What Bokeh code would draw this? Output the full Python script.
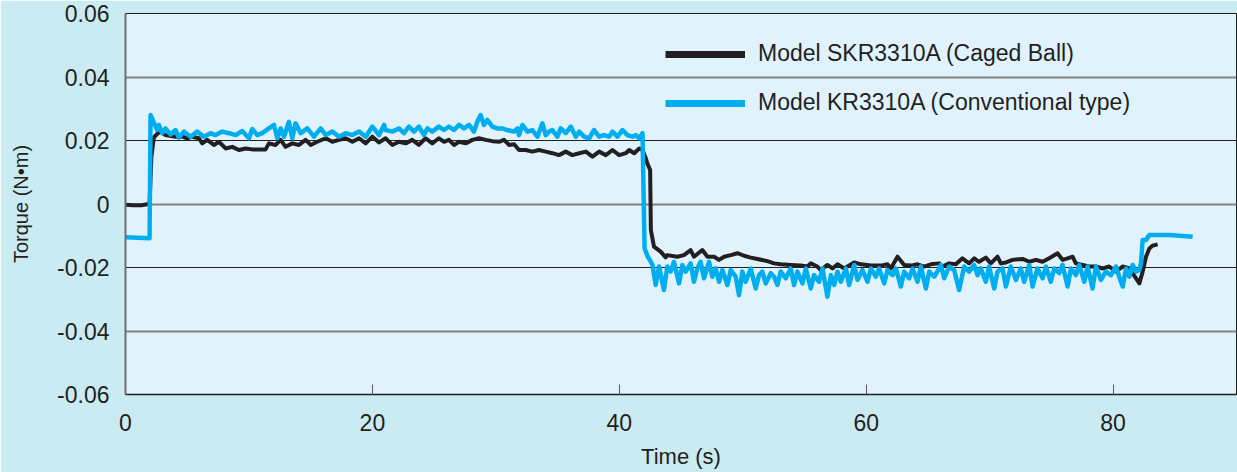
from bokeh.plotting import figure
from bokeh.models import (ColumnDataSource, Legend, LegendItem, FixedTicker, Grid,
                          CustomJSTickFormatter, Range1d)
from bokeh.embed import file_html
from bokeh.resources import INLINE

# ---------------- data ----------------
X_TICKS = [0, 20, 40, 60, 80]
Y_TICKS = [-0.06, -0.04, -0.02, 0, 0.02, 0.04, 0.06]
X_LABEL = "Time (s)"
Y_LABEL = "Torque (N\u2022m)"
SERIES_NAMES = ["Model SKR3310A (Caged Ball)", "Model KR3310A (Conventional type)"]

# Model SKR3310A (Caged Ball) -- time (s)
SKR_TIME = [
    0, 0.6, 1.3, 1.76, 1.95, 2.1, 2.3, 2.6, 2.85, 3.24,
    4.05, 4.59, 5.0, 5.41, 5.95, 6.22, 6.62, 7.16, 7.57, 8.11,
    8.65, 9.19, 9.73, 10.27, 11.35, 11.62, 12.16, 12.57, 12.97, 13.51,
    14.05, 14.59, 15.0, 15.54, 16.22, 16.76, 17.30, 17.84, 18.38, 18.92,
    19.46, 20.0, 20.54, 21.08,
    21.61, 22.15, 22.69, 23.23, 23.77, 24.31, 24.85, 25.39, 25.80, 26.20,
    26.61, 27.02, 27.56, 28.10, 28.64, 29.18, 29.72, 30.26, 30.66, 31.07,
    31.48, 31.88, 32.42, 32.96, 33.50, 34.04, 34.58, 35.12, 35.66, 36.20,
    36.75, 37.29, 37.83, 38.37, 38.91, 39.45, 39.99, 40.53, 40.80, 41.21,
    41.61, 41.88, 42.15, 42.27, 42.50, 42.56, 42.81, 43.35, 43.76,
    43.89, 44.70, 45.24, 45.78, 46.05, 46.73, 47.14, 47.68, 48.08, 48.49,
    49.03, 49.57, 50.11, 50.65, 51.19, 52.00, 52.54, 53.08, 53.89, 54.70,
    55.24, 55.51, 56.05, 56.32, 56.86, 57.27, 57.68, 58.22, 59.03, 59.57,
    60.38, 61.19, 61.73, 62.00, 62.54, 63.08, 63.62, 64.16, 64.70, 65.24,
    65.92,
    66.18, 66.72, 67.26, 67.80, 68.34, 68.75, 69.15, 69.69, 70.10, 70.64,
    70.91, 71.32, 71.86, 72.67, 73.21, 73.75, 74.29, 74.83, 75.50, 75.91,
    76.32, 76.72, 76.99, 77.53, 78.07, 78.61, 79.15, 79.69, 80.23, 80.78,
    81.32, 81.86, 82.13, 82.40, 82.67, 82.94, 83.21, 83.61,
]
# Model SKR3310A (Caged Ball) -- torque (N*m)
SKR_TORQUE = [
    -0.0002, -0.0004, -0.0004, -0.0001, 0.0000, 0.0150, 0.0210, 0.0222, 0.0228, 0.0217,
    0.0212, 0.0212, 0.0207, 0.0212, 0.0207, 0.0191, 0.0202, 0.0186, 0.0196, 0.0175,
    0.0180, 0.0170, 0.0175, 0.0172, 0.0172, 0.0191, 0.0186, 0.0202, 0.0180, 0.0191,
    0.0186, 0.0202, 0.0186, 0.0196, 0.0207, 0.0196, 0.0202, 0.0207, 0.0196, 0.0207,
    0.0191, 0.0212, 0.0194, 0.0207,
    0.0186, 0.0196, 0.0191, 0.0202, 0.0186, 0.0207, 0.0191, 0.0207, 0.0196, 0.0202,
    0.0186, 0.0196, 0.0191, 0.0202, 0.0207, 0.0202, 0.0198, 0.0196, 0.0202, 0.0186,
    0.0188, 0.0170, 0.0170, 0.0165, 0.0170, 0.0165, 0.0160, 0.0154, 0.0165, 0.0154,
    0.0160, 0.0165, 0.0149, 0.0165, 0.0154, 0.0170, 0.0154, 0.0160, 0.0170, 0.0160,
    0.0175, 0.0170, 0.0144, 0.0128, 0.0107, -0.0082, -0.0134, -0.0150, -0.0168,
    -0.0161, -0.0166, -0.0161, -0.0145, -0.0166, -0.0145, -0.0166, -0.0166, -0.0176, -0.0166,
    -0.0161, -0.0155, -0.0163, -0.0169, -0.0173, -0.0180, -0.0187, -0.0190, -0.0192, -0.0194,
    -0.0197, -0.0187, -0.0197, -0.0208, -0.0192, -0.0203, -0.0190, -0.0203, -0.0184, -0.0190,
    -0.0194, -0.0194, -0.0190, -0.0203, -0.0166, -0.0192, -0.0194, -0.0190, -0.0197, -0.0190,
    -0.0187,
    -0.0197, -0.0187, -0.0190, -0.0171, -0.0187, -0.0171, -0.0182, -0.0169, -0.0187, -0.0166,
    -0.0187, -0.0184, -0.0176, -0.0173, -0.0182, -0.0176, -0.0182, -0.0171, -0.0155, -0.0176,
    -0.0171, -0.0166, -0.0187, -0.0192, -0.0197, -0.0197, -0.0203, -0.0197, -0.0213, -0.0197,
    -0.0203, -0.0234, -0.0250, -0.0213, -0.0166, -0.0140, -0.0131, -0.0127,
]

# Model KR3310A (Conventional type) -- time (s)
KR_TIME = [
    0, 1.0, 1.95, 2.03, 2.57, 2.70, 2.97, 3.24, 3.65, 4.05,
    4.32, 4.73, 5.27, 5.81, 6.35, 6.89, 7.30, 7.84, 8.38, 8.92,
    9.46, 10.0, 10.27, 10.68, 11.08, 11.62, 12.03, 12.30, 12.57, 12.84,
    13.24, 13.51, 13.78, 14.19, 14.73, 15.27, 15.81, 16.22, 16.76, 17.30,
    17.84, 18.38, 18.92, 19.46, 20.0, 20.54, 20.95,
    21.07, 21.61, 22.15, 22.56, 22.96, 23.37, 23.77, 24.18, 24.45, 24.85,
    25.39, 25.80, 26.20, 26.61, 27.02, 27.42, 27.83, 28.23, 28.50, 28.77,
    29.04, 29.31, 29.72, 30.12, 30.53, 30.93, 31.48, 31.75, 31.88, 32.15,
    32.56, 32.96, 33.37, 33.77, 34.04, 34.31, 34.58, 34.99, 35.26, 35.66,
    36.07, 36.48, 36.75, 37.15, 37.56, 37.96, 38.37, 38.77, 39.18, 39.45,
    39.85, 40.26, 40.66, 41.07, 41.34, 41.61, 41.88, 42.05, 42.30, 42.68,
    42.95, 43.22, 43.62, 43.89, 44.16, 44.43, 44.84, 45.11, 45.38, 45.78,
    46.05, 46.32, 46.59, 46.86, 47.27, 47.54, 47.81, 48.08, 48.35, 48.76,
    49.03, 49.43, 49.70, 49.97, 50.24, 50.65, 51.05, 51.32, 51.59, 51.86,
    52.27, 52.54, 52.81, 53.08, 53.49, 53.89, 54.16, 54.43, 54.84, 55.11,
    55.51, 55.78, 56.19, 56.46, 56.86, 57.14, 57.41, 57.68, 57.95, 58.35,
    58.62, 59.03, 59.30, 59.70, 60.11, 60.38, 60.78, 61.05, 61.46, 61.73,
    62.14, 62.41, 62.81, 63.08, 63.49, 63.76, 64.16, 64.43, 64.84, 65.11,
    65.51, 65.92,
    66.05, 66.32, 66.72, 67.13, 67.53, 67.94, 68.34, 68.75, 69.02, 69.29,
    69.69, 69.96, 70.37, 70.64, 71.05, 71.32, 71.72, 72.13, 72.53, 72.80,
    73.21, 73.48, 73.88, 74.29, 74.56, 74.96, 75.23, 75.64, 75.91, 76.32,
    76.59, 76.99, 77.26, 77.67, 77.94, 78.34, 78.61, 79.02, 79.42, 79.83,
    80.23, 80.50, 80.78, 81.05, 81.32, 81.59, 81.86, 82.13, 82.26, 82.40,
    82.67, 82.94, 84.56, 86.45,
]
# Model KR3310A (Conventional type) -- torque (N*m)
KR_TORQUE = [
    -0.0105, -0.0106, -0.0108, 0.0280, 0.0233, 0.0249, 0.0223, 0.0238, 0.0219, 0.0233,
    0.0209, 0.0228, 0.0212, 0.0228, 0.0212, 0.0223, 0.0217, 0.0228, 0.0223, 0.0217,
    0.0230, 0.0207, 0.0236, 0.0217, 0.0223, 0.0238, 0.0249, 0.0207, 0.0238, 0.0212,
    0.0259, 0.0207, 0.0254, 0.0223, 0.0238, 0.0212, 0.0238, 0.0217, 0.0228, 0.0212,
    0.0223, 0.0217, 0.0228, 0.0212, 0.0244, 0.0217, 0.0249,
    0.0233, 0.0228, 0.0238, 0.0223, 0.0244, 0.0228, 0.0244, 0.0217, 0.0238, 0.0228,
    0.0244, 0.0233, 0.0244, 0.0233, 0.0249, 0.0238, 0.0249, 0.0228, 0.0259, 0.0280,
    0.0249, 0.0265, 0.0244, 0.0238, 0.0238, 0.0233, 0.0228, 0.0238, 0.0217, 0.0249,
    0.0228, 0.0233, 0.0212, 0.0254, 0.0217, 0.0228, 0.0233, 0.0212, 0.0238, 0.0223,
    0.0244, 0.0212, 0.0228, 0.0212, 0.0207, 0.0233, 0.0212, 0.0217, 0.0212, 0.0228,
    0.0212, 0.0233, 0.0217, 0.0212, 0.0217, 0.0207, 0.0223, -0.0140, -0.0165, -0.0190,
    -0.0255, -0.0197, -0.0271, -0.0197, -0.0213, -0.0182, -0.0250, -0.0192, -0.0213, -0.0187,
    -0.0245, -0.0203, -0.0182, -0.0234, -0.0182, -0.0229, -0.0203, -0.0245, -0.0208, -0.0255,
    -0.0208, -0.0229, -0.0287, -0.0213, -0.0245, -0.0203, -0.0266, -0.0224, -0.0213, -0.0250,
    -0.0218, -0.0229, -0.0255, -0.0213, -0.0234, -0.0203, -0.0255, -0.0213, -0.0250, -0.0203,
    -0.0266, -0.0224, -0.0245, -0.0203, -0.0292, -0.0224, -0.0255, -0.0213, -0.0245, -0.0203,
    -0.0255, -0.0192, -0.0239, -0.0208, -0.0245, -0.0203, -0.0229, -0.0203, -0.0250, -0.0208,
    -0.0224, -0.0203, -0.0260, -0.0213, -0.0234, -0.0203, -0.0245, -0.0197, -0.0266, -0.0213,
    -0.0229, -0.0203,
    -0.0192, -0.0234, -0.0197, -0.0208, -0.0271, -0.0197, -0.0213, -0.0192, -0.0224, -0.0203,
    -0.0245, -0.0197, -0.0266, -0.0213, -0.0203, -0.0260, -0.0197, -0.0239, -0.0203, -0.0245,
    -0.0192, -0.0260, -0.0203, -0.0234, -0.0197, -0.0245, -0.0203, -0.0218, -0.0192, -0.0260,
    -0.0203, -0.0224, -0.0192, -0.0245, -0.0197, -0.0266, -0.0197, -0.0239, -0.0213, -0.0224,
    -0.0197, -0.0229, -0.0260, -0.0203, -0.0229, -0.0192, -0.0213, -0.0208, -0.0187, -0.0113,
    -0.0113, -0.0098, -0.0098, -0.0103,
]

if len(SKR_TIME) != len(SKR_TORQUE) or len(KR_TIME) != len(KR_TORQUE):
    raise SystemExit("length mismatch %d/%d %d/%d" % (len(SKR_TIME), len(SKR_TORQUE),
                                                     len(KR_TIME), len(KR_TORQUE)))

# ---------------- style ----------------
FONT = "Liberation Sans"
TEXT_COLOR = "#231F20"
BLACK = "#231F20"
BLUE = "#00AEEF"
PLOT_BG = "#E0F2FC"
PAGE_BG = "#CBEBF3"

p = figure(width=1237, height=472, output_backend="svg", toolbar_location=None,
           x_range=Range1d(0, 90), y_range=Range1d(-0.06, 0.06),
           min_border_left=125, min_border_right=1, min_border_top=13, min_border_bottom=78,
           background_fill_color=PLOT_BG, border_fill_color=PAGE_BG,
           outline_line_color=BLACK, outline_line_width=1)

p.xgrid.visible = False
p.ygrid.visible = False

# horizontal grid lines (dark at +-0.02, grey at 0 and +-0.04)
g1 = Grid(dimension=1, ticker=FixedTicker(ticks=[-0.02, 0.02]),
          grid_line_color=BLACK, grid_line_width=1)
g2 = Grid(dimension=1, ticker=FixedTicker(ticks=[-0.04, 0, 0.04]),
          grid_line_color="#808285", grid_line_width=2)
p.add_layout(g1)
p.add_layout(g2)

# data lines
src_skr = ColumnDataSource(dict(t=SKR_TIME, v=SKR_TORQUE))
src_kr = ColumnDataSource(dict(t=KR_TIME, v=KR_TORQUE))
r_skr = p.line("t", "v", source=src_skr, line_color=BLACK, line_width=4, line_join="round")
r_kr = p.line("t", "v", source=src_kr, line_color=BLUE, line_width=4.5, line_join="round")

# legend-only renderers (thicker key lines); their points lie outside the visible range
leg_src = ColumnDataSource(dict(t=[-100.0, -99.0], v=[0.0, 0.0]))
leg_skr = p.line("t", "v", source=leg_src, line_color=BLACK, line_width=7)
leg_kr = p.line("t", "v", source=leg_src, line_color=BLUE, line_width=7)

legend = Legend(items=[LegendItem(label=SERIES_NAMES[0], renderers=[leg_skr]),
                       LegendItem(label=SERIES_NAMES[1], renderers=[leg_kr])],
                location=(540, 278), glyph_width=80, glyph_height=26, label_height=26,
                label_standoff=13, spacing=22, padding=0, margin=0,
                border_line_color=None, background_fill_alpha=0,
                label_text_font=FONT, label_text_font_size="23px",
                label_text_color=TEXT_COLOR)
p.add_layout(legend)

# x axis
xa = p.xaxis[0]
xa.ticker = FixedTicker(ticks=X_TICKS)
xa.major_tick_in = 10
xa.major_tick_out = 0
xa.major_tick_line_color = "#58595B"
xa.minor_tick_line_color = None
xa.axis_line_color = BLACK
xa.axis_line_width = 1.5
xa.major_label_text_font = FONT
xa.major_label_text_font_size = "23px"
xa.major_label_text_color = TEXT_COLOR
xa.major_label_standoff = 19
xa.axis_label = X_LABEL
xa.axis_label_text_font = FONT
xa.axis_label_text_font_size = "22px"
xa.axis_label_text_font_style = "normal"
xa.axis_label_text_color = TEXT_COLOR
xa.axis_label_standoff = 10

# y axis
ya = p.yaxis[0]
ya.ticker = FixedTicker(ticks=Y_TICKS)
ya.formatter = CustomJSTickFormatter(code="return Math.abs(tick) < 1e-9 ? '0' : tick.toFixed(2);")
ya.major_tick_in = 0
ya.major_tick_out = 0
ya.minor_tick_line_color = None
ya.axis_line_color = "#6D6E71"
ya.axis_line_width = 2
ya.major_label_text_font = FONT
ya.major_label_text_font_size = "23px"
ya.major_label_text_color = TEXT_COLOR
ya.major_label_standoff = 16
ya.axis_label = Y_LABEL
ya.axis_label_text_font = FONT
ya.axis_label_text_font_size = "20px"
ya.axis_label_text_font_style = "normal"
ya.axis_label_text_color = TEXT_COLOR
ya.axis_label_standoff = 22

html = file_html(p, INLINE)
html = html.replace("<body>", '<body style="margin:0;background-color:%s;">' % PAGE_BG, 1)
open("out.html", "w").write(html)
